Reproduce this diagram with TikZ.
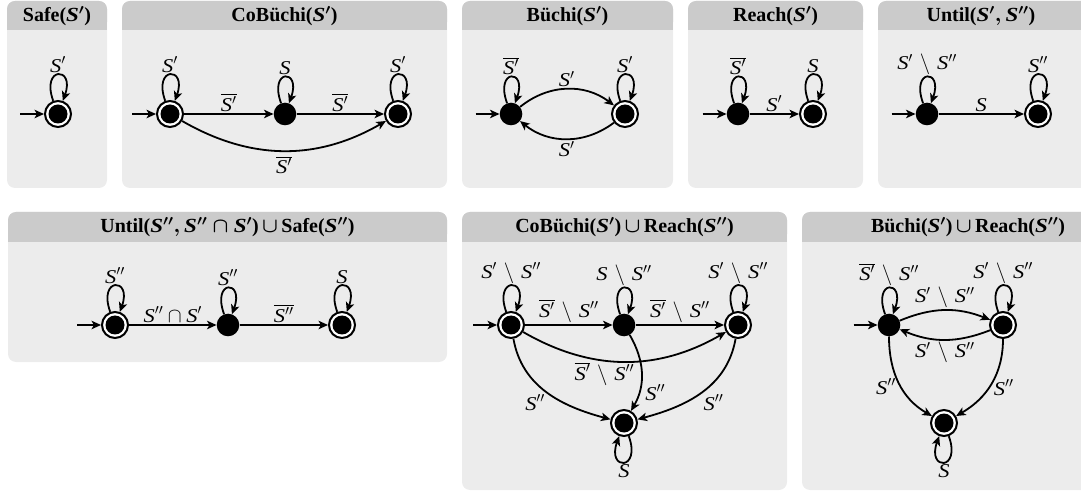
\documentclass[tikz,border=0pt]{standalone}
\usepackage{fontspec}
\usepackage{graphicx}
\setmainfont{Liberation Serif}
\usetikzlibrary{arrows.meta,calc}
\newcommand{\vS}{\mbox{\scalebox{1.15}[1]{\itshape S}}}
\newcommand{\sm}{\mskip2mu\setminus\mskip2mu}
\definecolor{headc}{HTML}{CBCBCB}
\definecolor{bodyc}{HTML}{ECECEC}
\newcommand{\mypanel}[5]{%
  \fill[bodyc, rounded corners=8pt] (#1,#2) rectangle (#3,#4);
  \fill[headc, rounded corners=8pt] (#1,#2) rectangle (#3,#5);
  \fill[headc] ($(0,0)+(#1,#2+12)$) rectangle (#3,#5);}
\tikzset{
  acc/.style={circle, draw=black, line width=2pt, fill=white, minimum size=26pt, inner sep=0pt,
    path picture={\fill[black] (path picture bounding box.center) circle (9.5pt);}},
  st/.style={circle, fill=black, minimum size=22.6pt, inner sep=0pt},
  tr/.style={-{Stealth[length=9.5pt,width=8.5pt,inset=2.5pt]}, line width=1.8pt},
  lab/.style={font=\fontsize{19.5}{23}\selectfont, inner sep=1.5pt},
  hd/.style={font=\fontsize{20}{24}\selectfont\bfseries\boldmath},
  lpa/.style={out=110, in=70, distance=37pt},
  lpb/.style={out=-70, in=-110, distance=37pt},
}
\begin{document}
\begin{tikzpicture}[x=1pt, y=-1pt]
\useasboundingbox (0,0) rectangle (1081,502);
\clip (0,0) rectangle (1081,502);
% panels
\mypanel{7}{1}{107}{188}{30}
\mypanel{122}{1}{447}{188}{30}
\mypanel{462}{1}{673}{188}{30}
\mypanel{688}{1}{863}{188}{30}
\mypanel{878}{1}{1090}{188}{30}
\mypanel{8}{212}{447}{362}{242}
\mypanel{462}{212}{787}{490}{242}
\mypanel{802}{212}{1134}{490}{242}
% headers
\node[hd] (hA) at (57,16) {Safe($\vS'$)};
\node[hd] (hB) at (284.5,16) {CoBüchi($\vS'$)};
\node[hd] (hC) at (567.5,16) {Büchi($\vS'$)};
\node[hd] (hD) at (775.5,16) {Reach($\vS'$)};
\node[hd] (hE) at (981,16) {Until($\vS',\vS''$)};
\node[hd] (hF) at (227.5,227) {Until($\vS'',\vS''\cap\vS'$)\,$\cup$\,Safe($\vS''$)};
\node[hd] (hG) at (624.5,227) {CoBüchi($\vS'$)\,$\cup$\,Reach($\vS''$)};
\node[hd] (hH) at (968,227) {Büchi($\vS'$)\,$\cup$\,Reach($\vS''$)};
% states row 1
\node[acc] (a1) at (58,114) {};
\node[acc] (b1) at (170,114) {};
\node[st]  (b2) at (285,114) {};
\node[acc] (b3) at (398,114) {};
\node[st]  (c1) at (511,114) {};
\node[acc] (c2) at (625,114) {};
\node[st]  (d1) at (738,114) {};
\node[acc] (d2) at (813,114) {};
\node[st]  (e1) at (927,114) {};
\node[acc] (e2) at (1038,114) {};
% states row 2
\node[acc] (f1) at (115,325) {};
\node[st]  (f2) at (228,325) {};
\node[acc] (f3) at (342,325) {};
\node[acc] (g1) at (511,325) {};
\node[st]  (g2) at (624,325) {};
\node[acc] (g3) at (738,325) {};
\node[acc] (g4) at (624,423) {};
\node[st]  (k1) at (889,325) {};
\node[acc] (k2) at (1003,325) {};
\node[acc] (k3) at (944,423) {};
% initial arrows
\foreach \n in {a1,b1,c1,d1,e1,f1,g1,k1}{
  \coordinate (i\n) at ([xshift=-24pt]\n.west);
  \draw[tr] (i\n) -- (\n);
}
% loops
\draw[tr] (a1) to[lpa] node[lab,above] {$\vS'$} (a1);
\draw[tr] (b1) to[lpa] node[lab,above] {$\vS'$} (b1);
\draw[tr] (b2) to[lpa] node[lab,above] {$\vS$} (b2);
\draw[tr] (b3) to[lpa] node[lab,above] {$\vS'$} (b3);
\draw[tr] (c1) to[lpa] node[lab,above] {$\overline{\vS'}$} (c1);
\draw[tr] (c2) to[lpa] node[lab,above] {$\vS'$} (c2);
\draw[tr] (d1) to[lpa] node[lab,above] {$\overline{\vS'}$} (d1);
\draw[tr] (d2) to[lpa] node[lab,above] {$\vS$} (d2);
\draw[tr] (e1) to[lpa] node[lab,above] {$\vS'\sm\vS''$} (e1);
\draw[tr] (e2) to[lpa] node[lab,above] {$\vS''$} (e2);
\draw[tr] (f1) to[lpa] node[lab,above] {$\vS''$} (f1);
\draw[tr] (f2) to[lpa] node[lab,above] {$\vS''$} (f2);
\draw[tr] (f3) to[lpa] node[lab,above] {$\vS$} (f3);
\draw[tr] (g1) to[lpa] node[lab,above] {$\vS'\sm\vS''$} (g1);
\draw[tr] (g2) to[lpa] node[lab,above] {$\vS\sm\vS''$} (g2);
\draw[tr] (g3) to[lpa] node[lab,above] {$\vS'\sm\vS''$} (g3);
\draw[tr] (g4) to[lpb] node[lab,below] {$\vS$} (g4);
\draw[tr] (k1) to[lpa] node[lab,above] {$\overline{\vS'}\sm\vS''$} (k1);
\draw[tr] (k2) to[lpa] node[lab,above] {$\vS'\sm\vS''$} (k2);
\draw[tr] (k3) to[lpb] node[lab,below] {$\vS$} (k3);
% transitions row 1
\draw[tr] (b1) -- node[lab,above] {$\overline{\vS'}$} (b2);
\draw[tr] (b2) -- node[lab,above] {$\overline{\vS'}$} (b3);
\draw[tr] (b1) to[bend right=30] node[lab,below=3pt] {$\overline{\vS'}$} (b3);
\draw[tr] (c1) to[bend left=38] node[lab,above] {$\vS'$} (c2);
\draw[tr] (c2) to[bend left=38] node[lab,below] {$\vS'$} (c1);
\draw[tr] (d1) -- node[lab,above] {$\vS'$} (d2);
\draw[tr] (e1) -- node[lab,above] {$\vS$} (e2);
% transitions row 2
\draw[tr] (f1) -- node[lab,above] {$\vS''\cap\vS'$} (f2);
\draw[tr] (f2) -- node[lab,above] {$\overline{\vS''}$} (f3);
\draw[tr] (g1) -- node[lab,above] {$\overline{\vS'}\sm\vS''$} (g2);
\draw[tr] (g2) -- node[lab,above] {$\overline{\vS'}\sm\vS''$} (g3);
\draw[tr] (g1) to[bend right=30] node[lab,below,pos=0.4] {$\overline{\vS'}\sm\vS''$} (g3);
\draw[tr] (g1) to[out=-80, in=165] node[lab,below left,pos=0.5] {$\vS''$} (g4);
\draw[tr] (g2) to[out=-60, in=60] node[lab,right=4pt,pos=0.76] {$\vS''$} (g4);
\draw[tr] (g3) to[out=-100, in=15] node[lab,below right,pos=0.5] {$\vS''$} (g4);
\draw[tr] (k1) to[bend left=22] node[lab,above] {$\vS'\sm\vS''$} (k2);
\draw[tr] (k2) to[bend left=22] node[lab,below] {$\vS'\sm\vS''$} (k1);
\draw[tr] (k1) to[out=-90, in=150] node[lab,left=3pt,pos=0.55] {$\vS''$} (k3);
\draw[tr] (k2) to[out=-90, in=30] node[lab,right=3pt,pos=0.55] {$\vS''$} (k3);
\end{tikzpicture}
\end{document}
